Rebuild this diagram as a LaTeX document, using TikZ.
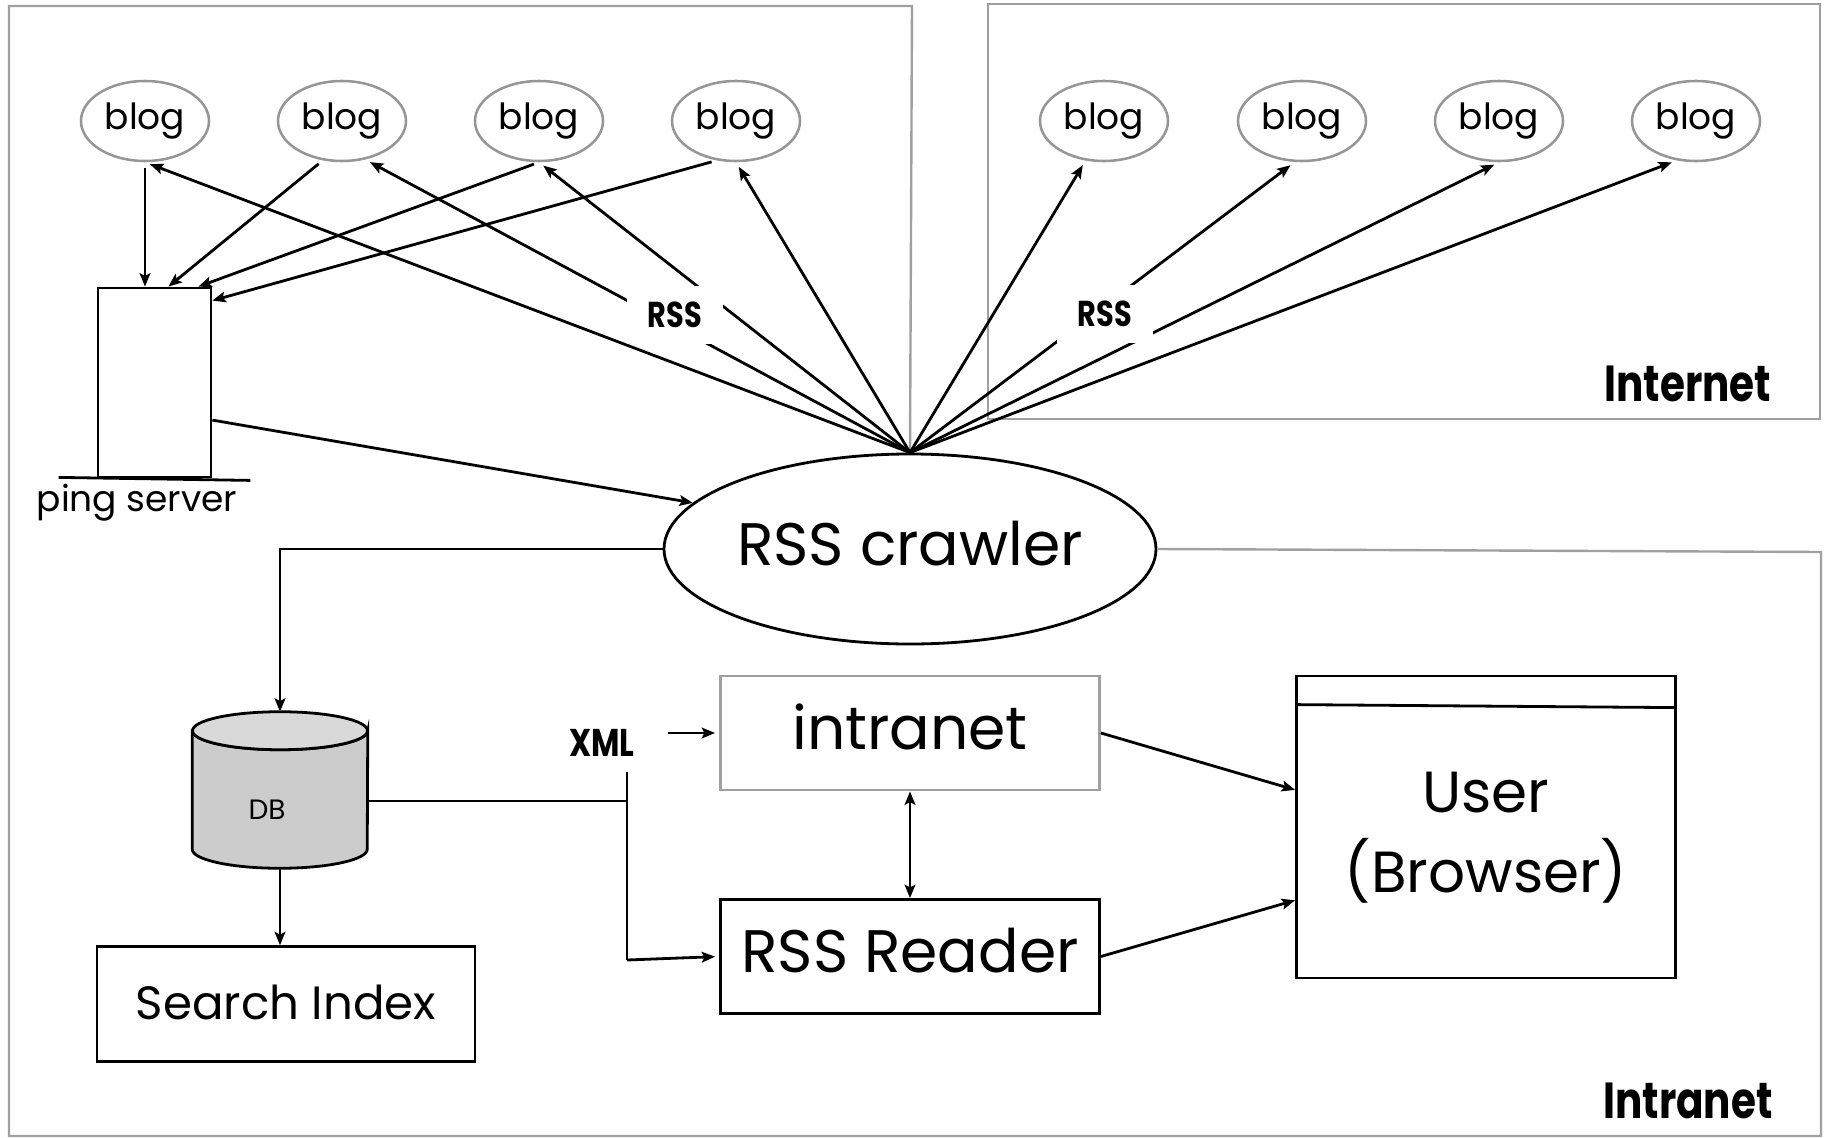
\documentclass[tikz,border=0pt]{standalone}
\usepackage{fontspec}
\setmainfont{Poppins}
\newfontfamily\tagfont[FakeStretch=0.8]{Poppins}
\usetikzlibrary{shapes.geometric}
\usetikzlibrary{arrows.meta}
\usetikzlibrary{calc}
\definecolor{framegray}{RGB}{160,160,160}
\definecolor{bloggray}{RGB}{150,150,150}
\definecolor{dbbody}{RGB}{204,204,204}
\definecolor{dbtop}{RGB}{217,217,217}

\begin{document}
\begin{tikzpicture}[x=0.75pt,y=0.75pt,yscale=-1,xscale=1,
  conn/.style={line width=2.1pt},
  arr/.style={conn,-{Stealth[length=10pt,width=8pt,inset=2pt]}},
  dblarr/.style={conn,{Stealth[length=10pt,width=8pt,inset=2pt]}-{Stealth[length=10pt,width=8pt,inset=2pt]}},
  frame/.style={draw=framegray,line width=1.8pt},
  blogshape/.style={ellipse,draw=bloggray,line width=1.9pt,minimum width=96pt,minimum height=60pt,inner sep=0pt,font=\fontsize{27}{32}\selectfont},
  boxshape/.style={rectangle,draw,line width=2.1pt,inner sep=0pt},
  tag/.style={fill=white,inner xsep=16pt,inner ysep=12pt,font=\tagfont\bfseries\fontsize{27}{32}\selectfont}
]
\useasboundingbox (0,0) rectangle (1825,1138);

%Shape: Ellipse [blogs, Internet side and intranet side]
\node[blogshape] (blog1) at (145,121) {blog};
\node[blogshape] (blog2) at (342,121) {blog};
\node[blogshape] (blog3) at (539,121) {blog};
\node[blogshape] (blog4) at (736,121) {blog};
\node[blogshape] (blog5) at (1104,121) {blog};
\node[blogshape] (blog6) at (1302,121) {blog};
\node[blogshape] (blog7) at (1499,121) {blog};
\node[blogshape] (blog8) at (1696,121) {blog};

%Shape: Ellipse [crawler]
\node[ellipse,draw,line width=2.1pt,minimum width=369pt,minimum height=142.5pt,inner sep=0pt,text depth=9pt,font=\fontsize{45}{54}\selectfont] (crawler) at (910,549) {RSS crawler};

%Shape: Rectangle [ping server]
\node[boxshape,minimum width=84.75pt,minimum height=141.75pt] (ping) at (154.5,382.5) {};
\draw[conn] ($(ping.south west)+(-38,-1)$) -- ($(ping.south east)+(38,2)$);
% Text Node
\node[inner sep=0pt,font=\fontsize{27}{32}\selectfont] (pinglabel) at (137,503) {ping server};

%Shape: Can [database]
\node[inner sep=0pt,minimum width=131.25pt,minimum height=117pt] (db) at (280,790) {};
\path[conn,draw,fill=dbbody] ($(db.north west)+(0,19)$) -- ($(db.south west)+(0,-19)$) arc[start angle=180,end angle=0,x radius=87.5,y radius=19] -- ($(db.north east)+(0,19)$) arc[start angle=0,end angle=180,x radius=87.5,y radius=19] -- cycle;
\draw[conn,fill=dbtop] ($(db.north)+(0,19)$) ellipse [x radius=87.5,y radius=19];
% Text Node
\node[inner sep=0pt,font=\fontsize{21}{25}\selectfont] (dblabel) at (267,810) {DB};

%Shape: Rectangle [boxes]
\node[boxshape,minimum width=283.5pt,minimum height=86pt,text depth=3pt,font=\fontsize{35}{42}\selectfont] (search) at (286,1004) {Search Index};
\node[boxshape,draw=framegray,minimum width=284.25pt,minimum height=85.5pt,text depth=9pt,font=\fontsize{45}{54}\selectfont] (intranet) at (910,733) {intranet};
\node[boxshape,minimum width=284.25pt,minimum height=85.5pt,text depth=10pt,font=\fontsize{45}{54}\selectfont] (reader) at (910,956.5) {RSS Reader};
\node[boxshape,minimum width=284.25pt,minimum height=226.5pt,label={[name=userlabel,align=center,yshift=-8pt,font=\fontsize{43.5}{60}\selectfont]center:{User\\(Browser)}}] (user) at (1486,827) {};
\draw[conn] ($(user.north west)+(0,30)$) -- ($(user.north east)+(0,33)$);

%Shape: Frames [Internet, intranet]
\draw[frame] (crawler.north) -- (912,6) -- (9,6) -- (9,1136) -- (1821,1136) -- (1821,552) -- (crawler.east);
\draw[frame] (988,4) rectangle (1820,419);

%Straight Lines [crawler to blogs]
\draw[arr,shorten >=4pt] (crawler.north) -- (blog1.south);
\draw[arr,shorten >=4pt] (crawler.north) -- (blog2.-59);
\draw[arr,shorten >=4pt] (crawler.north) -- (blog3.south);
\draw[arr,shorten >=4pt] (crawler.north) -- (blog4.south);
\draw[arr,shorten >=4pt] (crawler.north) -- (blog5.-115);
\draw[arr,shorten >=4pt] (crawler.north) -- (blog6.-100);
\draw[arr,shorten >=4pt] (crawler.north) -- (blog7.south);
\draw[arr,shorten >=4pt] (crawler.north) -- (blog8.-116);

%Straight Lines [blogs to ping server]
\draw[arr,shorten <=4pt] (blog1.south) -- (blog1.south |- ping.north);
\draw[arr,shorten <=4pt] (blog2.-116) -- ($(ping.north)+(14,0)$);
\draw[arr,shorten <=4pt] (blog3.south) -- ($(ping.north east)+(-14,0)$);
\draw[arr,shorten <=4pt] (blog4.-116) -- ($(ping.north east)+(0,14)$);
\draw[arr] (ping.-33.6) -- (crawler.168.6);

%Straight Lines [intranet side]
\draw[arr] (crawler.west) -| (db.north);
\draw[arr] (db.south) -- (db.south |- search.north);
\coordinate (xmljoin) at (627,801);
\coordinate (xmltop) at (627,772);
\coordinate (xmlbot) at (627,960);
\draw[conn] (db.east |- xmljoin) -- (xmljoin);
\draw[conn] (xmltop) -- (xmlbot);
\draw[arr,shorten >=3pt] (xmlbot) -- (reader.west);
\draw[dblarr] (intranet.south) -- (reader.north);
\draw[arr] (intranet.east) -- (user.169.6);
\draw[arr] (reader.east) -- (user.201);

% Text Node
\node[tag] (rssleft) at (675,315) {RSS};
\node[tag] (rssright) at (1105,314) {RSS};
\node[inner sep=0pt,font=\tagfont\bfseries\fontsize{29}{34}\selectfont] (xml) at (602,743) {XML};
\draw[arr,shorten <=25pt,shorten >=3pt] (xml.east |- intranet.west) -- (intranet.west);
\node[font=\tagfont\bfseries\fontsize{38}{44}\selectfont] (internet) at (1688,384) {Internet};
\node[font=\tagfont\bfseries\fontsize{38}{44}\selectfont] (intranetlabel) at (1688,1101) {Intranet};

\end{tikzpicture}
\end{document}
